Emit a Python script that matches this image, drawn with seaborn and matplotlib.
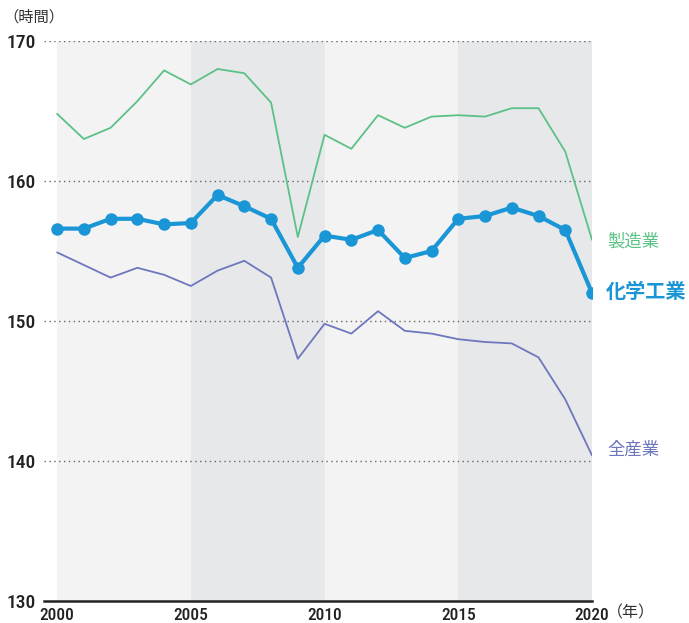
import numpy as np
import pandas as pd
import matplotlib
matplotlib.use("Agg")
import matplotlib.pyplot as plt
from matplotlib import font_manager
import seaborn as sns

years = list(range(2000, 2021))
chemical = [156.6, 156.6, 157.3, 157.3, 156.9, 157.0, 159.0, 158.2, 157.3, 153.8,
            156.1, 155.8, 156.5, 154.5, 155.0, 157.3, 157.5, 158.1, 157.5, 156.5, 152.0]
manufacturing = [164.8, 163.0, 163.8, 165.7, 167.9, 166.9, 168.0, 167.7, 165.6, 156.0,
                 163.3, 162.3, 164.7, 163.8, 164.6, 164.7, 164.6, 165.2, 165.2, 162.1, 155.8]
all_industry = [154.9, 154.0, 153.1, 153.8, 153.3, 152.5, 153.6, 154.3, 153.1, 147.3,
                149.8, 149.1, 150.7, 149.3, 149.1, 148.7, 148.5, 148.4, 147.4, 144.4, 140.4]
series_names = ["製造業", "化学工業", "全産業"]
y_ticks = [130, 140, 150, 160, 170]
x_ticks = [2000, 2005, 2010, 2015, 2020]

df = pd.DataFrame({
    "year": years * 3,
    "hours": manufacturing + chemical + all_industry,
    "series": [series_names[0]] * 21 + [series_names[1]] * 21 + [series_names[2]] * 21,
})

sns.set_style("white")

# pick a narrow face for the numbers if one is around
names = {f.name for f in font_manager.fontManager.ttflist}
narrow = [n for n in ["Roboto Condensed", "Liberation Sans Narrow", "DejaVu Sans Condensed"] if n in names]
num_font = narrow[:1] + ["DejaVu Sans"]
num_stretch = "normal" if narrow else "condensed"
jp_font = ["Noto Sans CJK JP", "DejaVu Sans"]

green = "#5cc186"
blue = "#1a96d6"
purple = "#6e76bd"

fig = plt.figure(figsize=(6.89, 6.23), dpi=100)
ax = fig.add_axes([44 / 689, 22 / 623, 548 / 689, 560 / 623])

# alternating 5-year background bands
for i, start in enumerate(range(2000, 2020, 5)):
    ax.axvspan(start, start + 5, color="#f3f3f4" if i % 2 == 0 else "#e7e8ea", lw=0, zorder=0)

for yv in y_ticks[1:]:
    ax.axhline(yv, color="#666666", lw=1.0, ls=(0, (1, 2.5)), zorder=1)

sns.lineplot(data=df[df.series == "製造業"], x="year", y="hours", color=green, lw=1.3, ax=ax, zorder=3)
sns.lineplot(data=df[df.series == "全産業"], x="year", y="hours", color=purple, lw=1.3, ax=ax, zorder=3)
sns.lineplot(data=df[df.series == "化学工業"], x="year", y="hours", color=blue, lw=3,
             marker="o", markersize=9, markeredgewidth=0, ax=ax, zorder=4)

ax.set_xlim(1999.51, 2020)
ax.set_ylim(130, 170)
ax.set_xlabel("")
ax.set_ylabel("")
for s in ["top", "right", "left"]:
    ax.spines[s].set_visible(False)
ax.spines["bottom"].set_linewidth(1.8)
ax.spines["bottom"].set_color("#222222")

ax.set_xticks(years, minor=True)
ax.set_xticks(x_ticks)
ax.set_xticklabels([str(x) for x in x_ticks], fontfamily=num_font, fontstretch=num_stretch,
                   fontsize=12.5, fontweight="medium")
ax.tick_params(axis="x", which="both", direction="in", length=8, width=1.2, color="#222222", pad=5)
ax.tick_params(axis="x", which="major", width=1.6)
ax.set_yticks(y_ticks)
ax.set_yticklabels([str(y) for y in y_ticks], fontfamily=num_font, fontstretch=num_stretch,
                   fontsize=14, fontweight="medium")
ax.tick_params(axis="y", length=0, pad=6)
for lab in ax.get_xticklabels() + ax.get_yticklabels():
    lab.set_color("#222222")

fig.text(3 / 689, 1 - 17 / 623, "（時間）", fontfamily=jp_font, fontsize=11, color="#333333",
         va="center", ha="left")
fig.text(607 / 689, 1 - 613 / 623, "（年）", fontfamily=jp_font, fontsize=11.5, color="#333333",
         va="center", ha="left")

ax.annotate("製造業", xy=(2020, 155.8), xytext=(11, -1), textcoords="offset points",
            fontfamily=jp_font, fontsize=12.5, color=green, va="center", annotation_clip=False)
ax.annotate("化学工業", xy=(2020, 152.0), xytext=(10, 1), textcoords="offset points",
            fontfamily=jp_font, fontsize=14.5, fontweight="bold", color=blue, va="center",
            annotation_clip=False)
ax.annotate("全産業", xy=(2020, 140.4), xytext=(11, 4), textcoords="offset points",
            fontfamily=jp_font, fontsize=12.5, color=purple, va="center", annotation_clip=False)

fig.savefig("out.png", dpi=100)
